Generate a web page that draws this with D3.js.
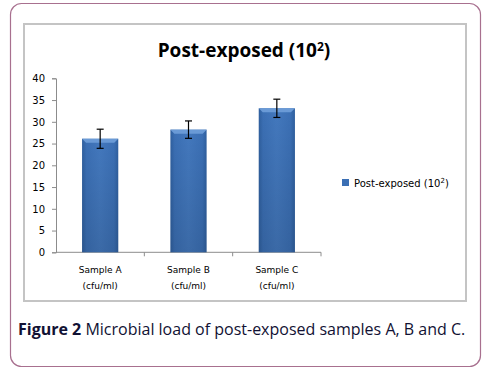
<!DOCTYPE html>
<html>
<head>
<meta charset="utf-8">
<script src="https://cdn.jsdelivr.net/npm/d3@7"></script>
<style>
  body { margin: 0; background: #fff; }
  svg { display: block; }
</style>
</head>
<body>
<svg id="chart" width="499" height="372"></svg>
<script>
// data
var categories = ["Sample A", "Sample B", "Sample C"];
var catSub = ["(cfu/ml)", "(cfu/ml)", "(cfu/ml)"];
var values = [26.1, 28.2, 33.1];
var errors = [2.2, 2.0, 2.1];
var yTicks = [0, 5, 10, 15, 20, 25, 30, 35, 40];
var seriesName = "Post-exposed (10²)";

var svg = d3.select("#chart");
var smallFont = "'DejaVu Sans', Verdana, sans-serif";

// outer rounded frame
svg.append("rect")
    .attr("x", 10.5).attr("y", 3.5)
    .attr("width", 470).attr("height", 363)
    .attr("rx", 11).attr("ry", 11)
    .attr("fill", "#fff")
    .attr("stroke", "#a8708f")
    .attr("stroke-width", 1.2);

// chart area frame
svg.append("rect")
    .attr("x", 24).attr("y", 24)
    .attr("width", 442).attr("height", 277)
    .attr("fill", "#fff")
    .attr("stroke", "#c4c4c4")
    .attr("stroke-width", 2);

// gradients
var defs = svg.append("defs");
var grad = defs.append("linearGradient").attr("id", "barGrad")
    .attr("x1", "0").attr("x2", "1").attr("y1", "0").attr("y2", "0");
grad.append("stop").attr("offset", "0%").attr("stop-color", "#2f5f9e");
grad.append("stop").attr("offset", "12%").attr("stop-color", "#3b6fb4");
grad.append("stop").attr("offset", "50%").attr("stop-color", "#4378bd");
grad.append("stop").attr("offset", "88%").attr("stop-color", "#3b6fb4");
grad.append("stop").attr("offset", "100%").attr("stop-color", "#2f5f9e");
var vgrad = defs.append("linearGradient").attr("id", "barShade")
    .attr("x1", "0").attr("x2", "0").attr("y1", "0").attr("y2", "1");
vgrad.append("stop").attr("offset", "0%").attr("stop-color", "#000").attr("stop-opacity", 0);
vgrad.append("stop").attr("offset", "100%").attr("stop-color", "#000").attr("stop-opacity", 0.12);

// title
var title = svg.append("text")
    .attr("x", 244).attr("y", 57)
    .attr("text-anchor", "middle")
    .style("font-family", "'Open Sans', sans-serif")
    .style("font-size", "19px")
    .style("font-weight", "bold")
    .attr("fill", "#000");
title.append("tspan").text("Post-exposed (10");
title.append("tspan").text("2").attr("dy", -6).style("font-size", "12px");
title.append("tspan").text(")").attr("dy", 6);

// scales
var x = d3.scaleBand()
    .domain(categories)
    .range([56, 321])
    .paddingInner(0.59)
    .paddingOuter(0.295);
var y = d3.scaleLinear()
    .domain([0, 40])
    .range([252.3, 78.3]);

// y axis
var yAxis = d3.axisLeft(y)
    .tickValues(yTicks)
    .tickSize(4)
    .tickPadding(7);
var gy = svg.append("g")
    .attr("transform", "translate(56,0)")
    .call(yAxis);
gy.select(".domain").attr("stroke", "#8c8c8c");
gy.selectAll(".tick line").attr("stroke", "#8c8c8c");
gy.selectAll(".tick text")
    .style("font-family", smallFont)
    .style("font-size", "10px")
    .attr("fill", "#000");

// x axis (ticks between categories)
var step = x.step();
var gx = svg.append("g")
    .attr("transform", "translate(0," + y(0) + ")");
gx.append("line")
    .attr("x1", 56).attr("x2", 321)
    .attr("stroke", "#8c8c8c");
gx.selectAll(".xtick")
    .data(categories)
    .enter()
    .append("line")
    .attr("class", "xtick")
    .attr("x1", function(d) { return x(d) + x.bandwidth() / 2 + step / 2; })
    .attr("x2", function(d) { return x(d) + x.bandwidth() / 2 + step / 2; })
    .attr("y1", 0).attr("y2", 4)
    .attr("stroke", "#8c8c8c");

var labels = gx.selectAll(".xlab")
    .data(categories)
    .enter()
    .append("text")
    .attr("class", "xlab")
    .attr("text-anchor", "middle")
    .style("font-family", smallFont)
    .style("font-size", "9px")
    .attr("fill", "#000");
labels.append("tspan")
    .attr("x", function(d) { return x(d) + x.bandwidth() / 2; })
    .attr("y", 21)
    .text(function(d) { return d; });
labels.append("tspan")
    .attr("x", function(d) { return x(d) + x.bandwidth() / 2; })
    .attr("y", 37)
    .text(function(d, i) { return catSub[i]; });

// bars
var bars = svg.selectAll(".bar")
    .data(values)
    .enter()
    .append("g")
    .attr("class", "bar");
bars.append("rect")
    .attr("x", function(d, i) { return x(categories[i]); })
    .attr("y", function(d) { return y(d); })
    .attr("width", x.bandwidth())
    .attr("height", function(d) { return y(0) - y(d); })
    .attr("fill", "url(#barGrad)");
bars.append("rect")
    .attr("x", function(d, i) { return x(categories[i]); })
    .attr("y", function(d) { return y(d); })
    .attr("width", x.bandwidth())
    .attr("height", function(d) { return y(0) - y(d); })
    .attr("fill", "url(#barShade)");
// top bevel
bars.append("path")
    .attr("d", function(d, i) {
        var x0 = x(categories[i]), x1 = x0 + x.bandwidth(), t = y(d);
        return "M" + x0 + "," + t + "L" + x1 + "," + t + "L" + (x1 - 4) + "," + (t + 4) + "L" + (x0 + 4) + "," + (t + 4) + "Z";
    })
    .attr("fill", "#6a9ad6");

// error bars
var eb = svg.selectAll(".err")
    .data(values)
    .enter()
    .append("g")
    .attr("class", "err")
    .attr("stroke", "#000")
    .attr("stroke-width", 1.2);
eb.append("line")
    .attr("x1", function(d, i) { return x(categories[i]) + x.bandwidth() / 2; })
    .attr("x2", function(d, i) { return x(categories[i]) + x.bandwidth() / 2; })
    .attr("y1", function(d, i) { return y(d + errors[i]); })
    .attr("y2", function(d, i) { return y(d - errors[i]); });
eb.append("line")
    .attr("x1", function(d, i) { return x(categories[i]) + x.bandwidth() / 2 - 3.5; })
    .attr("x2", function(d, i) { return x(categories[i]) + x.bandwidth() / 2 + 3.5; })
    .attr("y1", function(d, i) { return y(d + errors[i]); })
    .attr("y2", function(d, i) { return y(d + errors[i]); });
eb.append("line")
    .attr("x1", function(d, i) { return x(categories[i]) + x.bandwidth() / 2 - 3.5; })
    .attr("x2", function(d, i) { return x(categories[i]) + x.bandwidth() / 2 + 3.5; })
    .attr("y1", function(d, i) { return y(d - errors[i]); })
    .attr("y2", function(d, i) { return y(d - errors[i]); });

// legend
svg.append("rect")
    .attr("x", 342).attr("y", 179)
    .attr("width", 7).attr("height", 7)
    .attr("fill", "#3b6fb4");
var leg = svg.append("text")
    .attr("x", 354).attr("y", 186.5)
    .style("font-family", smallFont)
    .style("font-size", "10px")
    .attr("fill", "#000");
leg.append("tspan").text("Post-exposed (10");
leg.append("tspan").text("2").attr("dy", -4).style("font-size", "7px");
leg.append("tspan").text(")").attr("dy", 4);

// caption
var cap = svg.append("text")
    .attr("x", 18).attr("y", 335)
    .style("font-family", "'Open Sans', sans-serif")
    .style("font-size", "16px")
    .attr("fill", "#111133");
cap.append("tspan").text("Figure 2").style("font-weight", "bold");
cap.append("tspan").text(" Microbial load of post-exposed samples A, B and C.");
</script>
</body>
</html>
